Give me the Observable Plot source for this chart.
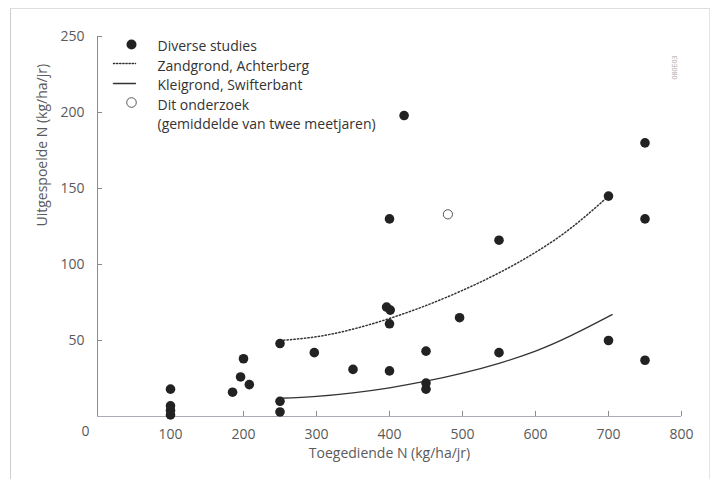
<!DOCTYPE html>
<html><head><meta charset="utf-8">
<script src="https://cdn.jsdelivr.net/npm/d3@7"></script>
<script src="https://cdn.jsdelivr.net/npm/@observablehq/plot@0.6"></script>
<style>
html,body{margin:0;padding:0;background:#fff;}
#wrap{position:relative;width:711px;height:479px;overflow:hidden;}
#frame{position:absolute;left:10px;top:8px;width:698px;height:480px;border-left:1px solid #cfcfcf;border-top:1px solid #dedede;border-right:1px solid #e4e4e4;pointer-events:none;}
</style></head><body><div id="wrap"><div id="chart"></div><div id="frame"></div></div>
<script>
// Diverse studies (filled dots)
const diverseX = [100,100,100,100,185,196,200,208,250,250,250,297,350,396,401,400,400,400,420,450,450,450,496,550,550,700,700,750,750,750];
const diverseY = [18,7,4,1,16,26,38,21,48,10,3,42,31,72,70,61,30,130,198,43,22,18,65,116,42,145,50,180,130,37];
// Dit onderzoek (open circle)
const onderzoekX = [480];
const onderzoekY = [133];
// Zandgrond, Achterberg (dotted curve)
const zandX = [250,300,350,400,450,500,550,600,650,700];
const zandY = [50,52.5,57.5,64.5,73,83,94.5,108,124.5,145];
// Kleigrond, Swifterbant (solid curve)
const kleiX = [250,300,350,400,450,500,550,600,650,705];
const kleiY = [12,13.3,15.6,18.9,23.2,28.5,35,43,53.5,67];
// Axis ticks
const xTicks = [100,200,300,400,500,600,700,800];
const yTicks = [50,100,150,200,250];
// Texts
const legendLabels = ["Diverse studies","Zandgrond, Achterberg","Kleigrond, Swifterbant","Dit onderzoek","(gemiddelde van twee meetjaren)"];
const xLabel = "Toegediende N (kg/ha/jr)";
const yLabel = "Uitgespoelde N (kg/ha/jr)";
const originLabel = "0";
const codeLabel = "080E03";

const diverse = diverseX.map((x, i) => ({x, y: diverseY[i]}));
const onderzoek = onderzoekX.map((x, i) => ({x, y: onderzoekY[i]}));
const zand = zandX.map((x, i) => ({x, y: zandY[i]}));
const klei = kleiX.map((x, i) => ({x, y: kleiY[i]}));

const lineShape = {draw(ctx, l) { ctx.moveTo(0, 0); ctx.lineTo(0, -l); }};
const ink = "#222";
const textCol = "#5a5a5a";

const chart = Plot.plot({
  width: 711,
  height: 479,
  marginLeft: 97,
  marginRight: 30,
  marginTop: 36,
  marginBottom: 63,
  style: {fontFamily: "'Open Sans', 'DejaVu Sans', sans-serif", fontSize: "14px", color: textCol, background: "transparent"},
  x: {domain: [0, 800]},
  y: {domain: [0, 250]},
  marks: [
    // axis lines
    Plot.ruleX([0], {y1: 0, y2: 250, stroke: "#8c8c8c", strokeWidth: 1}),
    Plot.ruleY([0], {x1: 0, x2: 800, stroke: "#a9abb8", strokeWidth: 1}),
    // inward ticks
    Plot.ruleX(xTicks, {x: d => d, y1: 0, y2: 3.4, stroke: "#8c8c8c"}),
    Plot.ruleY(yTicks, {y: d => d, x1: 0, x2: 7, stroke: "#8c8c8c"}),
    // tick labels
    Plot.axisX({ticks: xTicks, tickSize: 0, tickPadding: 13, label: null, fill: textCol}),
    Plot.axisY({ticks: yTicks, tickSize: 0, tickPadding: 13, label: null, fill: textCol}),
    Plot.text([originLabel], {frameAnchor: "bottom-left", dx: -16, dy: 19, fill: textCol}),
    // axis titles
    Plot.text([xLabel], {frameAnchor: "bottom", dy: 41, fill: textCol}),
    Plot.text([yLabel], {frameAnchor: "left", dx: -55, rotate: -90, fill: textCol}),
    // curves
    Plot.line(zand, {x: "x", y: "y", curve: "natural", stroke: "#333", strokeWidth: 1.5, strokeDasharray: "1.3,2.2"}),
    Plot.line(klei, {x: "x", y: "y", curve: "natural", stroke: "#333", strokeWidth: 1.3}),
    // points
    Plot.dot(diverse, {x: "x", y: "y", r: 4.8, fill: ink, stroke: "none"}),
    Plot.dot(onderzoek, {x: "x", y: "y", r: 4.6, fill: "white", stroke: "#555", strokeWidth: 1}),
    // legend
    Plot.dot([0], {frameAnchor: "top-left", dx: 34, dy: 8, r: 5, fill: ink}),
    Plot.vector([0], {frameAnchor: "top-left", dx: 16, dy: 27, length: 22, rotate: 90, anchor: "start", shape: lineShape, stroke: "#333", strokeWidth: 1.4, strokeDasharray: "1.3,1.8"}),
    Plot.vector([0], {frameAnchor: "top-left", dx: 16, dy: 47, length: 22, rotate: 90, anchor: "start", shape: lineShape, stroke: "#333", strokeWidth: 1.3}),
    Plot.dot([0], {frameAnchor: "top-left", dx: 34, dy: 66, r: 4.8, fill: "white", stroke: "#555", strokeWidth: 1}),
    Plot.text([legendLabels.join("\n")], {frameAnchor: "top-left", dx: 60, dy: 1, textAnchor: "start", lineAnchor: "top", lineHeight: 1.39, fill: "#333"}),
    // small code text
    Plot.text([codeLabel], {frameAnchor: "top-right", dx: -9, dy: 19, rotate: -90, fontSize: 7, fill: "#aaa"})
  ]
});
document.getElementById("chart").appendChild(chart);
</script>
</body></html>
